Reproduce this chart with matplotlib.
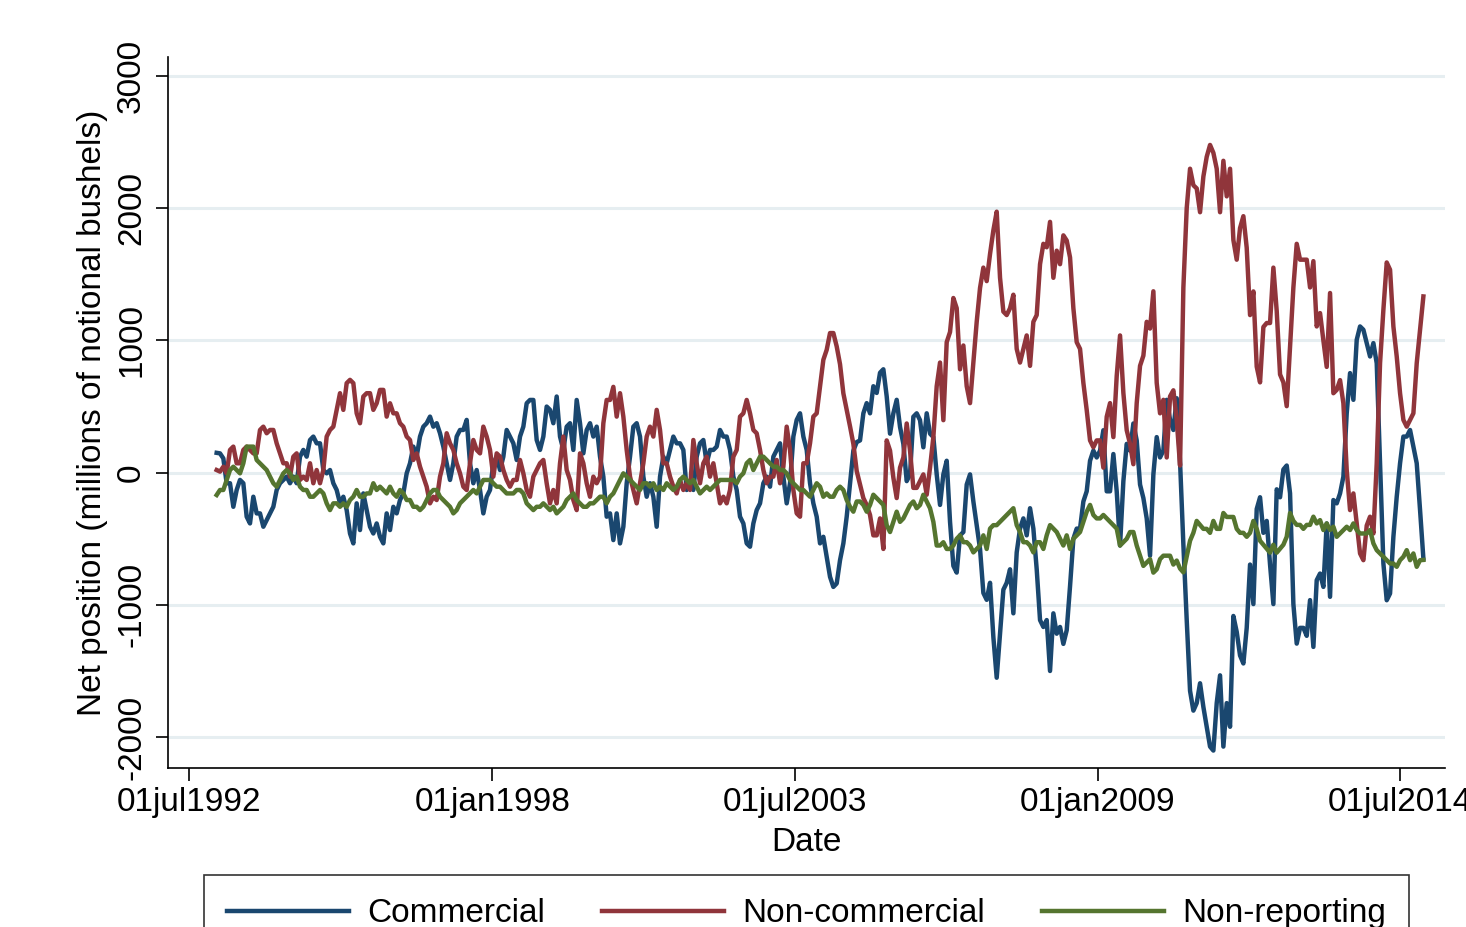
import numpy as np
import pandas as pd
import matplotlib
matplotlib.use("Agg")
import matplotlib.pyplot as plt

plt.rcParams['font.family'] = ['Liberation Sans', 'DejaVu Sans']

# points, about every 3 weeks starting at the end of 1992
start_year = 1992.994
step_year = 0.06056

commercial = [
    150, 146, 108, -80, -80, -258, -131, -55, -80, -333, -384, -182, -308, -308, -409, -359,
    -308, -258, -131, -80, -55, -30, -80, -30, -80, 121, 172, 121, 247, 273, 222, 222,
    20, -5, 20, -80, -131, -232, -182, -283, -460, -535, -232, -434, -157, -283, -409,
    # 1995.8 -
    -460, -384, -485, -535, -308, -434, -258, -308, -207, -157,
    -5, 71, 197, 121, 273, 348, 374, 424, 348, 374,
    298, 197, 71, -55, 71, 273, 323, 323, 399, 71,
    -80, 20, -131, -308, -182, -131, 71, 121, 20, 121,
    323, 273, 222, 96, 273, 348, 525, 550,
    # 1998.7 -
    550, 247, 172, 273, 500, 475, 374, 576, 273, 172,
    348, 374, 172, 550, 374, 146, 323, 374, 273, 348,
    121, -30, -333, -308, -510, -308, -535, -409, -80, 121,
    348, 374, 273, -30, -182, -80, -182, -409, -30, 121,
    71, 172, 273, 222, 222, 172, -131, -80,
    # 2001.7 -
    -131, 121, 222, 247, 71, 172, 172, 197, 323, 273,
    273, 172, -30, -131, -333, -384, -535, -560, -384, -283,
    -232, -80, -30, -106, 121, 172, 222, -30, -232, -80,
    273, 399, 449, 273, 172, -80, -232, -333, -535, -485,
    -636, -788, -864, -838, -662, -535, -333, -80,
    # 2004.6 -
    167, 231, 244, 449, 526, 449, 654, 603, 756, 782,
    577, 295, 449, 551, 346, 218, -64, -13, 423, 449,
    397, 192, 449, 295, 269, -13, -244, -13, 90, -372,
    -705, -756, -474, -449, -90, -13, -218, -397, -577, -910,
    -962, -833, -1244, -1551, -1218, -885, -833, -731,
    # 2007.5 -
    -1064, -603, -423, -346, -474, -269, -423, -731, -1115, -1167,
    -1115, -1500, -1064, -1218, -1167, -1295, -1192, -859, -500, -423,
    -423, -218, -141, 90, 167, 115, 167, 321, -141, -141,
    141, -141, -551, -64, 218, 167, 372, 244, -90, -192,
    -346, -628, -13, 269, 115, 167, 551, 400,
    # 2010.4 -
    323, 563, 84, -545, -1114, -1650, -1800, -1743, -1593, -1772,
    -1922, -2072, -2102, -1743, -1533, -2072, -1743, -1922, -1084, -1204,
    -1383, -1443, -1174, -695, -994, -275, -186, -455, -365, -695,
    -994, -126, -186, 24, 54, -156, -994, -1293, -1174, -1174,
    -1234, -964,
    # 2012.9 -
    -1318, -813, -763, -864, -384, -939, -207, -232, -157, -30,
    449, 753, 551, 1005, 1106, 1081, 980, 879, 980, 828,
    71, -687, -965, -914, -485, -182, 71, 273, 273, 323,
    197, 71, -283, -650,
]

non_commercial = [
    20, 8, 45, -5, 172, 197, 71, 71, 172, 197, 172, 146, 146, 323, 348, 298,
    323, 323, 222, 146, 71, 71, -30, 121, 146, -55, -30, -55, 71, -80, 20, -80,
    20, 273, 323, 348, 475, 601, 475, 677, 702, 677, 449, 374, 576, 601, 601,
    # 1995.8 -
    475, 525, 626, 626, 424, 525, 449, 449, 374, 348,
    273, 247, 96, 146, 45, -30, -106, -232, -182, -207,
    -30, 71, 298, 222, 172, 71, -5, -106, -131, 71,
    247, 172, 146, 348, 273, 172, -30, 146, 121, 20,
    -55, -106, -55, -55, 96, -5, -131, -182,
    # 1998.7 -
    -30, 20, 71, 96, -80, -232, -131, -232, 71, 273,
    20, -55, -207, -283, 146, 71, -80, -182, -30, -80,
    -30, 374, 550, 550, 649, 424, 601, 424, 172, -30,
    -131, -232, -80, 71, 273, 348, 273, 475, 323, 71,
    71, -30, -106, -157, -55, -131, -80, -131,
    # 2001.7 -
    247, 71, -80, 71, 121, -30, 71, -80, -232, -182,
    -232, -131, 121, 172, 424, 449, 550, 449, 323, 298,
    172, 20, -80, -30, -30, 96, -80, 45, 348, 172,
    -131, -308, -333, 71, 71, 222, 424, 449, 649, 854,
    929, 1056, 1056, 955, 820, 600, 475, 350,
    # 2004.6 -
    218, 13, -90, -192, -244, -320, -474, -474, -346, -577,
    244, 167, -38, -192, 38, 115, 372, 167, -115, -115,
    -64, -13, -167, 38, 269, 654, 833, 397, 987, 1064,
    1321, 1244, 782, 962, 654, 526, 833, 1141, 1397, 1551,
    1449, 1654, 1833, 1974, 1474, 1218, 1192, 1244,
    # 2007.5 -
    1346, 936, 833, 936, 1038, 808, 1141, 1192, 1577, 1731,
    1705, 1897, 1474, 1679, 1577, 1795, 1756, 1628, 1244, 987,
    936, 679, 474, 244, 192, 244, 244, 38, 423, 526,
    269, 731, 1038, 603, 321, 218, 64, 526, 808, 885,
    1141, 1090, 1372, 679, 449, 551, 115, 577,
    # 2010.4 -
    623, 400, 54, 1401, 2000, 2299, 2174, 2150, 1970, 2240,
    2389, 2479, 2419, 2299, 1970, 2359, 2090, 2299, 1760, 1611,
    1850, 1940, 1701, 1192, 1371, 802, 683, 1102, 1132, 1132,
    1551, 1222, 743, 683, 503, 952, 1401, 1731, 1611, 1611,
    1611, 1401,
    # 2012.9 -
    1600, 1106, 1207, 1000, 800, 1359, 601, 626, 700, 525,
    20, -283, -157, -384, -611, -662, -400, -333, -460, 71,
    828, 1232, 1590, 1535, 1106, 879, 601, 399, 348, 399,
    449, 828, 1081, 1333,
]

non_reporting = [
    -169, -131, -131, -55, 20, 45, 20, -5, 71, 197, 197, 197, 96, 71, 45, 20,
    -30, -80, -106, -55, -5, 20, -5, -55, -30, -106, -131, -131, -182, -182, -157, -131,
    -157, -232, -283, -232, -232, -258, -232, -258, -207, -182, -131, -182, -182, -157, -157,
    # 1995.8 -
    -80, -131, -106, -131, -157, -106, -157, -182, -131, -157,
    -207, -207, -258, -258, -283, -258, -207, -157, -131, -131,
    -182, -207, -232, -258, -308, -283, -232, -207, -182, -157,
    -131, -157, -106, -55, -55, -55, -80, -106, -106, -131,
    -157, -157, -157, -131, -131, -157, -232, -258,
    # 1998.7 -
    -283, -258, -258, -232, -258, -283, -258, -308, -283, -258,
    -207, -182, -157, -207, -232, -258, -258, -232, -232, -207,
    -182, -182, -232, -182, -157, -106, -55, -5, -30, -55,
    -80, -106, -131, -80, -80, -106, -80, -131, -106, -131,
    -80, -106, -131, -106, -55, -30, -55, -80,
    # 2001.7 -
    -55, -106, -157, -131, -106, -131, -106, -80, -55, -55,
    -55, -55, -55, -80, -30, -5, 71, 96, 20, 71,
    121, 121, 96, 71, 45, 45, 20, 20, -5, -55,
    -80, -106, -131, -131, -157, -182, -131, -80, -106, -182,
    -157, -182, -182, -131, -106, -131, -207, -258,
    # 2004.6 -
    -295, -218, -218, -244, -295, -244, -167, -192, -218, -244,
    -397, -449, -372, -295, -372, -346, -295, -244, -218, -269,
    -244, -167, -218, -269, -372, -551, -551, -526, -577, -577,
    -551, -500, -474, -526, -526, -551, -603, -577, -551, -474,
    -577, -423, -397, -397, -372, -346, -320, -295,
    # 2007.5 -
    -269, -397, -449, -526, -526, -551, -603, -526, -526, -577,
    -474, -397, -423, -449, -500, -551, -474, -577, -500, -474,
    -449, -372, -295, -244, -320, -346, -346, -320, -346, -372,
    -397, -423, -551, -526, -500, -449, -449, -551, -628, -705,
    -679, -654, -756, -731, -654, -628, -628, -628,
    # 2010.4 -
    -695, -665, -725, -754, -635, -515, -455, -365, -395, -425,
    -425, -455, -365, -425, -425, -305, -335, -335, -335, -425,
    -455, -455, -485, -455, -365, -425, -515, -545, -575, -605,
    -545, -605, -575, -545, -485, -305, -365, -395, -395, -425,
    -395, -395,
    # 2012.9 -
    -333, -384, -359, -434, -384, -434, -409, -485, -460, -434,
    -409, -434, -384, -434, -460, -460, -460, -434, -535, -586,
    -611, -636, -662, -687, -687, -712, -662, -636, -586, -662,
    -611, -712, -662, -660,
]

series = [commercial, non_commercial, non_reporting]
names = ["Commercial", "Non-commercial", "Non-reporting"]
colors = ["#1a476f", "#90353b", "#55752f"]

tick_dates = ["1992-07-01", "1998-01-01", "2003-07-01", "2009-01-01", "2014-07-01"]
tick_labels = ["01jul1992", "01jan1998", "01jul2003", "01jan2009", "01jul2014"]
y_ticks = [-2000, -1000, 0, 1000, 2000, 3000]


def decimal_year(d):
    ts = pd.Timestamp(d)
    n = 366 if ts.is_leap_year else 365
    return ts.year + (ts.dayofyear - 1) / n


fig = plt.figure(figsize=(14.66, 9.27), dpi=100)
ax = fig.add_axes([0.1146, 0.1715, 0.8711, 0.767])

for vals, name, col in zip(series, names, colors):
    t = start_year + step_year * np.arange(len(vals))
    ax.plot(t, vals, color=col, linewidth=3.2, label=name, solid_joinstyle='round')

ax.set_xlim(1992.11, 2015.31)
ax.set_ylim(-2234, 3144)

ax.set_yticks(y_ticks)
ax.set_yticklabels([str(v) for v in y_ticks], rotation=90, va='center')
ax.set_xticks([decimal_year(d) for d in tick_dates])
ax.set_xticklabels(tick_labels)

ax.grid(axis='y', color='#e6eef1', linewidth=2.2)
ax.set_axisbelow(True)
for s in ['top', 'right']:
    ax.spines[s].set_visible(False)
for s in ['left', 'bottom']:
    ax.spines[s].set_linewidth(1.2)
    ax.spines[s].set_color('black')

ax.tick_params(axis='both', labelsize=24, width=1.2, length=9, color='black')
ax.tick_params(axis='y', pad=6)
ax.tick_params(axis='x', pad=5)

ax.set_xlabel("Date", fontsize=24, labelpad=6)
ax.set_ylabel("Net position (millions of notional bushels)", fontsize=24, labelpad=6)

leg = fig.legend(loc='upper center', bbox_to_anchor=(0.5501, 0.0561), ncol=3,
                 fontsize=24, frameon=True, fancybox=False, edgecolor='black',
                 handlelength=3.65, handletextpad=0.55, columnspacing=1.72,
                 borderpad=0.7, borderaxespad=0)
leg.get_frame().set_linewidth(1.2)

fig.savefig("out.png", dpi=100, facecolor='white')
